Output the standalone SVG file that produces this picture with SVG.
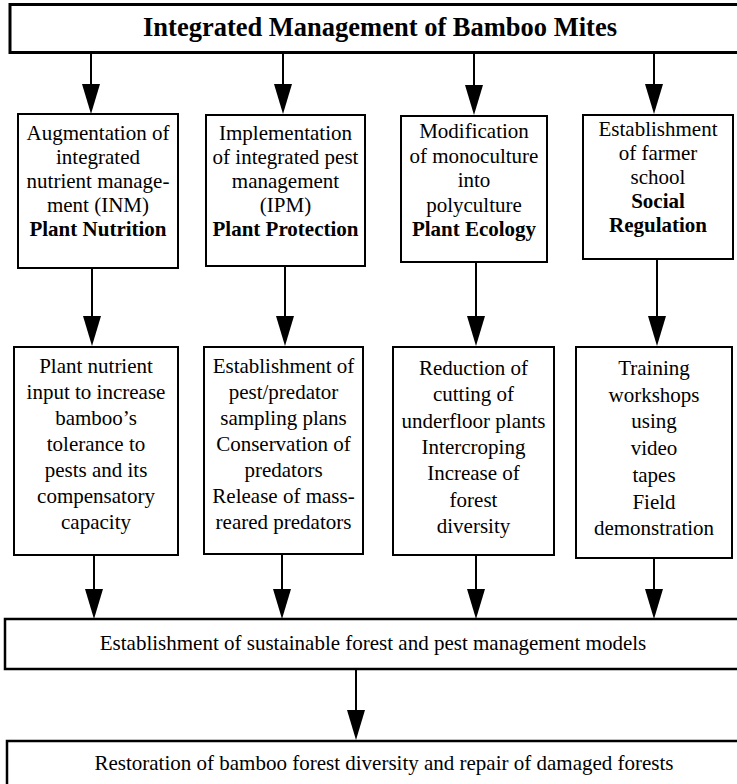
<svg xmlns="http://www.w3.org/2000/svg" width="737" height="784" viewBox="0 0 737 784">
<style>
.box{fill:#fff;stroke:#000;stroke-width:2}
.wide{fill:#fff;stroke:#000;stroke-width:2.5}
.t{font-family:'Liberation Serif','Tinos','Times New Roman','DejaVu Serif',serif;font-size:21px;fill:#000;text-anchor:middle}
.b{font-weight:bold}
.title{font-family:'Liberation Serif','Tinos','Times New Roman','DejaVu Serif',serif;font-size:26.5px;font-weight:bold;fill:#000;text-anchor:middle}
.c{stroke:#000;stroke-width:2;fill:none;marker-end:url(#ah)}
</style>
<defs>
<marker id="ah" viewBox="0 0 30 18" refX="26" refY="9" markerWidth="30" markerHeight="18" orient="auto" markerUnits="userSpaceOnUse">
<path d="M0,0 L30,9 L0,18 Z" fill="#000"/>
</marker>
</defs>
<rect width="737" height="784" fill="#fff"/>

<g id="connectors">
<line class="c" x1="91" y1="54" x2="91" y2="110"/>
<line class="c" x1="283" y1="54" x2="283" y2="110"/>
<line class="c" x1="474" y1="54" x2="474" y2="111"/>
<line class="c" x1="654" y1="54" x2="654" y2="110"/>

<line class="c" x1="92" y1="268" x2="92" y2="342"/>
<line class="c" x1="285" y1="266" x2="285" y2="342"/>
<line class="c" x1="476" y1="262" x2="476" y2="342"/>
<line class="c" x1="657" y1="259" x2="657" y2="342"/>

<line class="c" x1="94" y1="555" x2="94" y2="615"/>
<line class="c" x1="282" y1="554" x2="282" y2="615"/>
<line class="c" x1="476" y1="555" x2="476" y2="615"/>
<line class="c" x1="654" y1="558" x2="654" y2="615"/>

<line class="c" x1="356" y1="669" x2="356" y2="736"/>
</g>

<g id="title">
<rect x="10" y="4.5" width="740" height="48" fill="#fff" stroke="#000" stroke-width="3"/>
<text class="title" x="380" y="36" font-family="Liberation Serif, serif">Integrated Management of Bamboo Mites</text>
</g>

<g id="nutrition">
<rect class="box" x="18" y="114" width="160" height="154"/>
<text class="t" font-family="Liberation Serif, serif"><tspan x="98" y="140">Augmentation of</tspan><tspan x="98" y="164">integrated</tspan><tspan x="98" y="188">nutrient manage-</tspan><tspan x="98" y="212">ment (INM)</tspan><tspan x="98" y="236" class="b">Plant Nutrition</tspan></text>
</g>

<g id="protection">
<rect class="box" x="206" y="115" width="159" height="151"/>
<text class="t" font-family="Liberation Serif, serif"><tspan x="285.5" y="140">Implementation</tspan><tspan x="285.5" y="164">of integrated pest</tspan><tspan x="285.5" y="188">management</tspan><tspan x="285.5" y="212">(IPM)</tspan><tspan x="285.5" y="236" class="b">Plant Protection</tspan></text>
</g>

<g id="ecology">
<rect class="box" x="401" y="116" width="146" height="146"/>
<text class="t" font-family="Liberation Serif, serif"><tspan x="474" y="138">Modification</tspan><tspan x="474" y="162.5">of monoculture</tspan><tspan x="474" y="187">into</tspan><tspan x="474" y="211.5">polyculture</tspan><tspan x="474" y="236" class="b">Plant Ecology</tspan></text>
</g>

<g id="social">
<rect class="box" x="583" y="115" width="150" height="144"/>
<text class="t" font-family="Liberation Serif, serif"><tspan x="658" y="136">Establishment</tspan><tspan x="658" y="160">of farmer</tspan><tspan x="658" y="184">school</tspan><tspan x="658" y="208" class="b">Social</tspan><tspan x="658" y="232" class="b">Regulation</tspan></text>
</g>

<g id="nutrient-input">
<rect class="box" x="14" y="347" width="164" height="208"/>
<text class="t" font-family="Liberation Serif, serif"><tspan x="96" y="373">Plant nutrient</tspan><tspan x="96" y="399">input to increase</tspan><tspan x="96" y="425">bamboo’s</tspan><tspan x="96" y="451">tolerance to</tspan><tspan x="96" y="477">pests and its</tspan><tspan x="96" y="503">compensatory</tspan><tspan x="96" y="529">capacity</tspan></text>
</g>

<g id="sampling">
<rect class="box" x="204" y="347" width="159" height="207"/>
<text class="t" font-family="Liberation Serif, serif"><tspan x="283.5" y="373">Establishment of</tspan><tspan x="283.5" y="399">pest/predator</tspan><tspan x="283.5" y="425">sampling plans</tspan><tspan x="283.5" y="451">Conservation of</tspan><tspan x="283.5" y="477">predators</tspan><tspan x="283.5" y="503">Release of mass-</tspan><tspan x="283.5" y="529">reared predators</tspan></text>
</g>

<g id="diversity">
<rect class="box" x="393" y="347" width="161" height="208"/>
<text class="t" font-family="Liberation Serif, serif"><tspan x="473.5" y="375">Reduction of</tspan><tspan x="473.5" y="401.3">cutting of</tspan><tspan x="473.5" y="427.6">underfloor plants</tspan><tspan x="473.5" y="453.9">Intercroping</tspan><tspan x="473.5" y="480.2">Increase of</tspan><tspan x="473.5" y="506.5">forest</tspan><tspan x="473.5" y="532.8">diversity</tspan></text>
</g>

<g id="training">
<rect class="box" x="576" y="347" width="156" height="211"/>
<text class="t" font-family="Liberation Serif, serif"><tspan x="654" y="375">Training</tspan><tspan x="654" y="401.7">workshops</tspan><tspan x="654" y="428.4">using</tspan><tspan x="654" y="455.1">video</tspan><tspan x="654" y="481.8">tapes</tspan><tspan x="654" y="508.5">Field</tspan><tspan x="654" y="535.2">demonstration</tspan></text>
</g>

<g id="models">
<rect class="wide" x="5" y="619" width="745" height="50"/>
<text class="t" x="373" y="650" font-family="Liberation Serif, serif">Establishment of sustainable forest and pest management models</text>
</g>

<g id="restoration">
<rect class="wide" x="7" y="741" width="745" height="60"/>
<text class="t" x="384" y="770" font-family="Liberation Serif, serif">Restoration of bamboo forest diversity and repair of damaged forests</text>
</g>
</svg>
